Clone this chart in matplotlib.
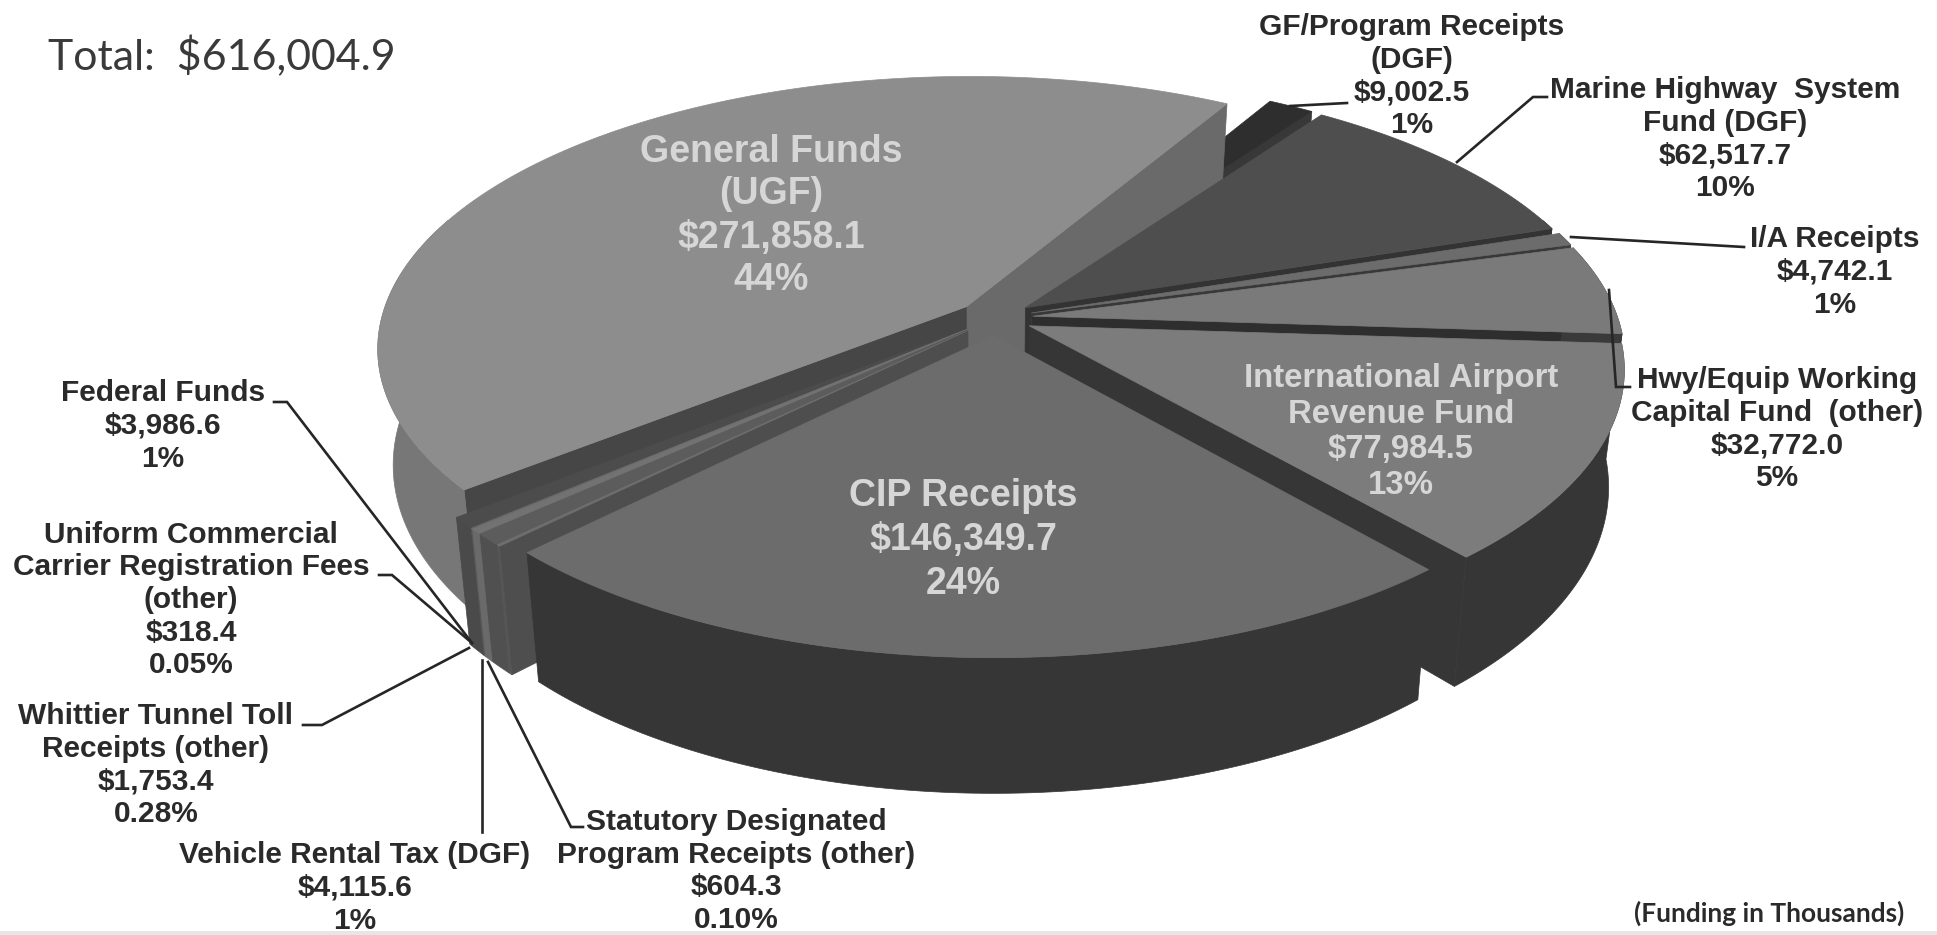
import numpy as np
import matplotlib
matplotlib.use("Agg")
import matplotlib.pyplot as plt

# counterclockwise from General Funds
slice_names = ["General Funds", "Federal Funds", "Uniform Commercial", "Whittier Tunnel",
               "Vehicle Rental", "Statutory Designated", "CIP Receipts", "International Airport",
               "Hwy/Equip", "I/A Receipts", "Marine Highway", "GF/Program"]
slice_values = [271858.1, 3986.6, 318.4, 1753.4, 4115.6, 604.3, 146349.7, 77984.5,
                32772.0, 4742.1, 62517.7, 9002.5]
top_colors = ["#8d8d8d", "#4c4c4c", "#6a6a6a", "#727272", "#5c5c5c", "#6e6e6e", "#6c6c6c",
              "#7c7c7c", "#7a7a7a", "#6c6c6c", "#4e4e4e", "#2e2e2e"]
wall_colors = ["#777777", "#4a4a4a", "#585858", "#6a6a6a", "#505050", "#565656", "#363636",
               "#363636", "#3a3a3a", "#3e3e3e", "#333333", "#262626"]
start_wall_colors = ["#6a6a6a", "#4a4a4a", "#5a5a5a", "#666666", "#484848", "#4e4e4e", "#3e3e3e",
                     "#363636", "#2e2e2e", "#383838", "#333333", "#383838"]
end_wall_colors = ["#464646", "#3a3a3a", "#5a5a5a", "#666666", "#484848", "#4e4e4e", "#3e3e3e",
                   "#2a2a2a", "#2e2e2e", "#383838", "#333333", "#262626"]

outside_labels = [
    ("GF/Program Receipts\n(DGF)\n$9,002.5\n1%", 1412, 76),
    ("Marine Highway  System\nFund (DGF)\n$62,517.7\n10%", 1725, 139),
    ("I/A Receipts\n$4,742.1\n1%", 1835, 272),
    ("Hwy/Equip Working\nCapital Fund  (other)\n$32,772.0\n5%", 1777, 429),
    ("Federal Funds\n$3,986.6\n1%", 163, 426),
    ("Uniform Commercial\nCarrier Registration Fees\n(other)\n$318.4\n0.05%", 191, 600),
    ("Whittier Tunnel Toll\nReceipts (other)\n$1,753.4\n0.28%", 156, 765),
    ("Vehicle Rental Tax (DGF)\n$4,115.6\n1%", 355, 888),
    ("Statutory Designated\nProgram Receipts (other)\n$604.3\n0.10%", 736, 871),
]
inside_labels = [
    ("General Funds\n(UGF)\n$271,858.1\n44%", 771, 216, 27, 1.25),
    ("CIP Receipts\n$146,349.7\n24%", 963, 540, 27, 1.28),
    ("International Airport\nRevenue Fund\n$77,984.5\n13%", 1401, 432, 23.7, 1.2),
]
leader_lines = [
    [(1290, 106), (1347, 103)],
    [(1457, 162), (1533, 97), (1547, 97)],
    [(1571, 237), (1744, 247)],
    [(1609, 290), (1616, 387), (1630, 387)],
    [(274, 402), (287, 402), (472, 643)],
    [(379, 575), (392, 575), (472, 643)],
    [(303, 725), (322, 725), (469, 648)],
    [(481.5, 832), (481.5, 660)],
    [(583, 827), (571, 827), (488, 662)],
]

START_ANGLE = 60.0
CX, CY = 995, 318
RX, RY = 585, 268
PERSP = 0.15
DEPTH = 114
SHRINK = 0.025
EXPLODE = 0.065


def project(u, v, z=0.0):
    # v points at the viewer, z goes down through the slab
    s = 1.0 / (1.0 - PERSP * v)
    return CX + RX * u * s * (1.0 - SHRINK * z), CY + RY * v * s + DEPTH * z * s


def main():
    fig = plt.figure(figsize=(19.37, 9.35), dpi=100)
    ax = fig.add_axes([0, 0, 1, 1])
    ax.set_xlim(0, 1937)
    ax.set_ylim(935, 0)
    ax.axis("off")
    ax.axhspan(931, 935, color="#e6e6e6", lw=0)

    values = np.array(slice_values)
    sweep = values / values.sum() * 360.0
    starts = START_ANGLE + np.concatenate([[0], np.cumsum(sweep)[:-1]])
    ends = starts + sweep
    mids = (starts + ends) / 2

    order = np.argsort(-np.sin(np.radians(mids)))
    for i in order:
        mid = np.radians(mids[i])
        ou, ov = EXPLODE * np.cos(mid), -EXPLODE * np.sin(mid)
        theta = np.radians(np.linspace(starts[i], ends[i], 160))
        rim_u = ou + np.cos(theta)
        rim_v = ov - np.sin(theta)

        # radial walls that face the viewer
        a0, a1 = np.radians(starts[i]), np.radians(ends[i])
        for ang, visible, color in ((a0, np.cos(a0) > 0, start_wall_colors[i]),
                                    (a1, np.cos(a1) < 0, end_wall_colors[i])):
            if not visible:
                continue
            eu, ev = ou + np.cos(ang), ov - np.sin(ang)
            xs = [project(ou, ov, 0)[0], project(eu, ev, 0)[0], project(eu, ev, 1)[0], project(ou, ov, 1)[0]]
            ys = [project(ou, ov, 0)[1], project(eu, ev, 0)[1], project(eu, ev, 1)[1], project(ou, ov, 1)[1]]
            ax.fill(xs, ys, color=color, lw=0.5, zorder=1)

        # outer wall, front part only
        front = np.sin(theta) < 0.35
        if front.any():
            x0, y0 = project(rim_u[front], rim_v[front], 0)
            x1, y1 = project(rim_u[front], rim_v[front], 1)
            ax.fill(np.r_[x0, x1[::-1]], np.r_[y0, y1[::-1]], color=wall_colors[i], lw=0.5, zorder=1)

        # top face
        xt, yt = project(rim_u, rim_v, 0)
        hx, hy = project(ou, ov, 0)
        ax.fill(np.r_[hx, xt], np.r_[hy, yt], color=top_colors[i], lw=0.5, zorder=1)

    for pts in leader_lines:
        xs, ys = zip(*pts)
        ax.plot(xs, ys, color="#262626", lw=1.9, zorder=3, solid_joinstyle="miter")

    for text, x, y in outside_labels:
        ax.text(x, y, text, ha="center", va="center", family="Liberation Sans", weight="bold",
                fontsize=21.5, color="#2a2a2a", linespacing=1.215, zorder=4)
    for text, x, y, size, spacing in inside_labels:
        ax.text(x, y, text, ha="center", va="center", family="Liberation Sans", weight="bold",
                fontsize=size, color="#d6d6d6", linespacing=spacing, zorder=4)

    ax.text(48, 57, "Total:  $616,004.9", ha="left", va="center", family="Lato", fontsize=30.9,
            color="#3a3a3a")
    ax.text(1904, 913, "(Funding in Thousands)", ha="right", va="center", family="Lato",
            weight="bold", fontsize=18.9, color="#2a2a2a")

    fig.savefig("out.png", dpi=100, facecolor="white")
    plt.close(fig)


if __name__ == "__main__":
    main()
